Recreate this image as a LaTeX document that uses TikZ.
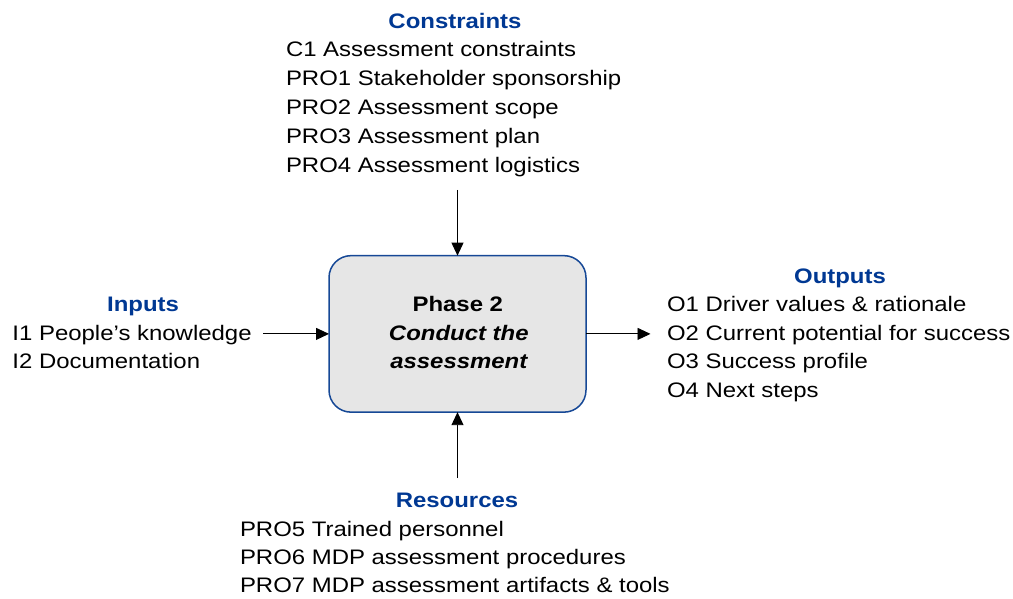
\documentclass[tikz,border=0pt]{standalone}
\usepackage{fontspec}
\setmainfont{Liberation Sans}[FakeStretch=1.14]
\usetikzlibrary{arrows.meta}
\definecolor{headblue}{RGB}{0,56,147}
\definecolor{boxblue}{RGB}{22,72,150}
\definecolor{boxfill}{RGB}{230,230,230}
\begin{document}
\begin{tikzpicture}[x=1pt,y=-1pt,
  every node/.style={inner sep=0pt,outer sep=0pt,font=\fontsize{21}{29}\selectfont},
  item/.style={anchor=base west},
  head/.style={anchor=base,text=headblue,font=\fontsize{21}{29}\selectfont\bfseries},
  title/.style={anchor=base,font=\fontsize{21}{29}\selectfont\bfseries},
  phasebox/.style={draw=boxblue,line width=1.5pt,fill=boxfill,rounded corners=22pt,
    minimum width=257pt,minimum height=156.5pt},
  arr/.style={draw=black,line width=0.9pt,-{Triangle[length=13pt,width=12pt]}}
]
\useasboundingbox (0,0) rectangle (1013,599);

% central box
\node[phasebox] (box) at (457.5,333.9) {};
\node[title] (t1) at (457.8,311.6) {Phase 2};
\node[title,font=\fontsize{21}{29}\selectfont\bfseries\itshape] (t2) at (458.8,340) {Conduct the};
\node[title,font=\fontsize{21}{29}\selectfont\bfseries\itshape] (t3) at (458.8,368.4) {assessment};

% constraints
\node[head] (hc) at (455,28.7) {Constraints};
\node[item] (c1) at (286,57) {C1 Assessment constraints};
\node[item] (c2) at (286,86) {PRO1 Stakeholder sponsorship};
\node[item] (c3) at (286,115) {PRO2 Assessment scope};
\node[item] (c4) at (286,143.8) {PRO3 Assessment plan};
\node[item] (c5) at (286,172.6) {PRO4 Assessment logistics};

% inputs
\node[head] (hi) at (143,311.3) {Inputs};
\node[item] (i1) at (12.5,340) {I1 People’s knowledge};
\node[item] (i2) at (12.5,368.5) {I2 Documentation};

% outputs
\node[head] (ho) at (840,283.3) {Outputs};
\node[item] (o1) at (667,311.5) {O1 Driver values \& rationale};
\node[item] (o2) at (667,340) {O2 Current potential for success};
\node[item] (o3) at (667,368.5) {O3 Success profile};
\node[item] (o4) at (667,397) {O4 Next steps};

% resources
\node[head] (hr) at (457,507) {Resources};
\node[item] (r1) at (240,536.5) {PRO5 Trained personnel};
\node[item] (r2) at (240,564.5) {PRO6 MDP assessment procedures};
\node[item] (r3) at (240,592.5) {PRO7 MDP assessment artifacts \& tools};

% connectors
\coordinate (ctop) at (457.5,190);
\coordinate (rbot) at (457.5,478);
\coordinate (iend) at (263,333.9);
\coordinate (oend) at (650.5,333.9);
\draw[arr] (ctop) -- (box.north);
\draw[arr] (rbot) -- (box.south);
\draw[arr] (iend) -- (box.west);
\draw[arr] (box.east) -- (oend);
\end{tikzpicture}
\end{document}
